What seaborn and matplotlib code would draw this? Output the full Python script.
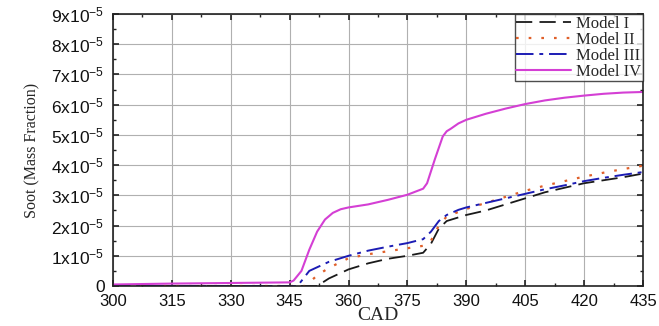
import numpy as np
import pandas as pd
import matplotlib
matplotlib.use("Agg")
import matplotlib.pyplot as plt
import seaborn as sns
from matplotlib.ticker import MultipleLocator, FuncFormatter

# Crank angle (deg) and soot mass fraction (units of 1e-5) for each model
cad_1 = [300, 330, 352, 355, 360, 365, 370, 375, 379, 381, 383, 385, 390, 395, 400, 405, 410, 415, 420, 425, 430, 435]
soot_1 = [0, 0, 0, 0.25, 0.55, 0.75, 0.9, 1.0, 1.1, 1.4, 1.9, 2.15, 2.35, 2.5, 2.7, 2.9, 3.1, 3.25, 3.4, 3.5, 3.6, 3.72]

cad_2 = [300, 330, 349, 352, 355, 360, 365, 370, 375, 379, 381, 383, 385, 390, 395, 400, 405, 410, 415, 420, 425, 430, 435]
soot_2 = [0, 0, 0, 0.35, 0.6, 0.92, 1.05, 1.15, 1.25, 1.33, 1.5, 2.0, 2.3, 2.55, 2.75, 2.95, 3.15, 3.32, 3.47, 3.62, 3.75, 3.87, 3.98]

cad_3 = [300, 330, 347, 350, 355, 360, 365, 370, 375, 379, 381, 383, 385, 388, 390, 395, 400, 405, 410, 415, 420, 425, 430, 435]
soot_3 = [0, 0, 0, 0.5, 0.8, 1.0, 1.17, 1.3, 1.42, 1.55, 1.8, 2.15, 2.35, 2.52, 2.6, 2.75, 2.9, 3.05, 3.2, 3.33, 3.47, 3.58, 3.68, 3.77]

cad_4 = [300, 315, 330, 345, 346, 348, 350, 352, 354, 356, 358, 360, 365, 370, 375, 379, 380, 382, 384, 385, 386, 388, 390, 395, 400, 405, 410, 415, 420, 425, 430, 435]
soot_4 = [0.05, 0.08, 0.1, 0.12, 0.18, 0.5, 1.2, 1.8, 2.2, 2.42, 2.54, 2.6, 2.7, 2.85, 3.02, 3.22, 3.4, 4.2, 4.95, 5.12, 5.2, 5.38, 5.5, 5.7, 5.87, 6.02, 6.14, 6.23, 6.3, 6.36, 6.4, 6.42]

labels = ["Model I", "Model II", "Model III", "Model IV"]
colors = ["#1a1a1a", "#e0602a", "#1c1cb4", "#d43fd4"]
styles = [(0, (9, 4)), (0, (1.2, 4.5)), (0, (9, 3, 2, 3)), "-"]
widths = [1.3, 1.6, 1.4, 1.5]

sns.set_theme(style="white")
plt.rcParams["mathtext.fontset"] = "custom"
plt.rcParams["mathtext.rm"] = "Liberation Sans"
plt.rcParams["mathtext.it"] = "Liberation Sans"

fig = plt.figure(figsize=(6.59, 3.26), dpi=100)
ax = fig.add_axes([113 / 659, 1 - 286 / 326, 530 / 659, 272 / 326])

series = [(cad_1, soot_1), (cad_2, soot_2), (cad_3, soot_3), (cad_4, soot_4)]
for (x, y), lab, c, ls, lw in zip(series, labels, colors, styles, widths):
    df = pd.DataFrame({"CAD": x, "soot": np.array(y) * 1e-5})
    sns.lineplot(data=df, x="CAD", y="soot", ax=ax, color=c, linestyle=ls,
                 linewidth=lw, label=lab)

ax.set_xlim(300, 435)
ax.set_ylim(0, 9e-5)
ax.xaxis.set_major_locator(MultipleLocator(15))
ax.xaxis.set_minor_locator(MultipleLocator(7.5))
ax.yaxis.set_major_locator(MultipleLocator(1e-5))
ax.yaxis.set_minor_locator(MultipleLocator(0.5e-5))


def yfmt(v, pos):
    n = int(round(v / 1e-5))
    if n == 0:
        return "0"
    return r"%dx10$^{-5}$" % n


ax.yaxis.set_major_formatter(FuncFormatter(yfmt))
ax.grid(True, which="major", color="#b0b0b0", linewidth=0.8)
ax.tick_params(which="both", direction="in", top=True, right=True, bottom=True, left=True,
               colors="#222222")
ax.tick_params(which="major", length=4, width=1.2, labelsize=12.5, labelcolor="#111111")
ax.tick_params(axis="y", which="major", pad=6)
ax.tick_params(axis="x", which="major", pad=6, labelsize=12)
ax.tick_params(which="minor", length=2.5, width=1.0)
for lab in ax.get_xticklabels() + ax.get_yticklabels():
    lab.set_fontfamily("Liberation Sans")
for s in ax.spines.values():
    s.set_color("#222222")
    s.set_linewidth(1.2)

ax.set_xlabel("CAD", family="Liberation Serif", fontsize=14, labelpad=-2)
ax.set_ylabel("Soot (Mass Fraction)", family="Liberation Serif", fontsize=11.5, labelpad=8)

leg = ax.legend(loc="upper right", frameon=True, fancybox=False, borderaxespad=0,
                prop={"family": "Liberation Serif", "size": 12}, handlelength=3.3,
                labelspacing=0.0, borderpad=0.1, handletextpad=0.3)
leg.get_frame().set_edgecolor("#222222")
leg.get_frame().set_linewidth(1.0)

fig.savefig("out.png", dpi=100)
